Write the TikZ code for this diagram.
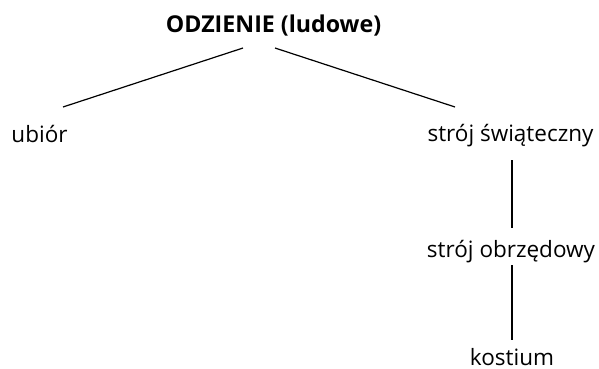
\documentclass[tikz,border=0pt]{standalone}
\usepackage{fontspec}
\setmainfont{Open Sans}
\begin{document}
\begin{tikzpicture}[x=1pt,y=-1pt,
  term/.style={font=\fontsize{22.5}{26}\selectfont, inner sep=0pt, anchor=base},
  head/.style={term, font=\fontsize{23.2}{26}\selectfont\bfseries},
  link/.style={line width=1.2pt}]
\useasboundingbox (0,0) rectangle (599,369);
% labels of the tree
\node[head] (root)  at (273.5,32.5) {ODZIENIE (ludowe)};
\node[term] (ubior) at (39.5,142) {ubiór};
\node[term] (swiat) at (510.5,141) {strój świąteczny};
\node[term] (obrz)  at (511,257) {strój obrzędowy};
\node[term] (kost)  at (512,365) {kostium};
% branch end points
\coordinate (rootL) at (243,48);
\coordinate (rootR) at (275,48);
\coordinate (ubiorT) at (63,107);
\coordinate (swiatT) at (455,107);
\coordinate (swiatB) at (512,160);
\coordinate (obrzT)  at (512,228);
\coordinate (obrzB)  at (512,265);
\coordinate (kostT)  at (512,340);
% branches
\draw[link] (rootL) -- (ubiorT);
\draw[link] (rootR) -- (swiatT);
\draw[link] (swiatB) -- (obrzT);
\draw[link] (obrzB) -- (kostT);
\end{tikzpicture}
\end{document}
